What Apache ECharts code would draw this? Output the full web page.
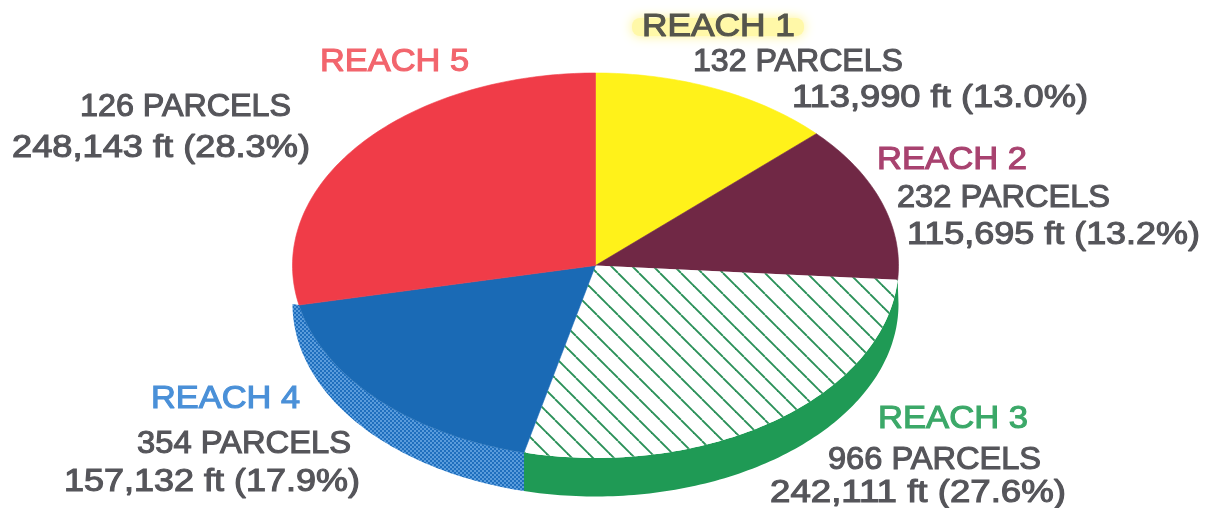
<!DOCTYPE html>
<html><head><meta charset="utf-8">
<style>html,body{margin:0;padding:0;background:#fff}#c{width:1208px;height:508px}</style>
<script src="https://cdn.jsdelivr.net/npm/echarts@6/dist/echarts.min.js"></script>
</head><body><div id="c"></div>
<script>
const categories = ['REACH 1','REACH 2','REACH 3','REACH 4','REACH 5'];
const feet = [113990,115695,242111,157132,248143];
const parcels = [132,232,966,354,126];
const percents = ['13.0','13.2','27.6','17.9','28.3'];

const topColors = ['#fff21a','#702845','hatch','#1a6ab5','#f03c48'];
const sideColors = [null,null,'#1f9a55','dots',null];
const titleColors = ['#55554c','#a8426f','#3ba868','#4a90d8','#f2656d'];
const bodyColor = '#55555a';

const cx=595.5, cy=265.5, rx=303, ry=192.5, depth=38.5;
const total = feet.reduce((a,b)=>a+b,0);

function tile(size,draw){const c=document.createElement('canvas');c.width=c.height=size;draw(c.getContext('2d'),size);return c;}
const hatch = tile(21,(g,s)=>{
  g.fillStyle='#fff';g.fillRect(0,0,s,s);
  g.strokeStyle='#2a9058';g.lineWidth=1.9;
  for(let k=-2;k<=2;k++){const o=9+k*s;g.beginPath();g.moveTo(o,0);g.lineTo(o+s,s);g.stroke();}
});
const dots = tile(4,(g,s)=>{
  g.fillStyle='#1f6fbe';g.fillRect(0,0,s,s);
  g.fillStyle='#5a9cdc';g.fillRect(0,0,2,2);g.fillRect(2,2,2,2);
});
const paint = c => c==='hatch'?{image:hatch,repeat:'repeat'}:c==='dots'?{image:dots,repeat:'repeat'}:c;

function pt(a,dy){const r=a*Math.PI/180;return [cx+rx*Math.sin(r),cy+dy-ry*Math.cos(r)];}
function arc(a0,a1,dy){const n=Math.max(2,Math.ceil(Math.abs(a1-a0)));const p=[];for(let i=0;i<=n;i++)p.push(pt(a0+(a1-a0)*i/n,dy));return p;}
function span(i){let s=0;for(let k=0;k<i;k++)s+=feet[k];return [s/total*360,(s+feet[i])/total*360];}

const rows = feet.map((v,i)=>[v,i]);

const sideSeries = {type:'custom',coordinateSystem:'none',silent:true,z:1,clip:false,data:rows,
  renderItem(p,api){
    const i=api.value(1);if(!sideColors[i])return null;
    const [a0,a1]=span(i);
    const b0=a0<100?90:a0, b1=a1>250&&a1<270?270:a1;
    const pts=arc(a0,a1,0).concat(arc(b1,b0,depth));
    return {type:'polygon',shape:{points:pts},style:{fill:paint(sideColors[i])}};
  }};
const topSeries = {type:'custom',coordinateSystem:'none',silent:true,z:2,clip:false,data:rows,
  renderItem(p,api){
    const i=api.value(1);const [a0,a1]=span(i);
    const pts=[[cx,cy]].concat(arc(a0,a1,0));
    const c=topColors[i];
    return {type:'polygon',shape:{points:pts},style:{fill:paint(c),stroke:c==='hatch'?null:c,lineWidth:c==='hatch'?0:0.6}};
  }};

const m=document.createElement('canvas').getContext('2d');
const FONT='"Liberation Sans",Arial,sans-serif';
function label(text,x,x2,yc,size,fill){
  const font=`${size}px ${FONT}`;m.font=font;
  const sx=(x2-x)/m.measureText(text).width;
  return {type:'text',x:x,y:yc+2,scaleX:sx,silent:true,z:10,
    style:{text,x:0,y:0,font,fill,stroke:fill,lineWidth:1.1,textAlign:'left',textVerticalAlign:'middle'}};
}
const titleBoxes=[[642,795,25],[877,1027,158],[878,1028,417],[151,300,397],[320,469,60]];
const parcelBoxes=[[693,903,60],[897,1110,196],[828,1041,458],[137,351,442],[80,291,105]];
const feetBoxes=[[792,1088,96],[907,1200,233],[770,1066,491],[64,360,480],[12,310,146]];
const fmt=n=>n.toLocaleString('en-US');
const glow={type:'rect',shape:{x:632,y:18,width:172,height:18,r:8},silent:true,z:5,
  style:{fill:'#fff8a8',shadowColor:'#fff48c',shadowBlur:12}};
const texts=[glow];
categories.forEach((c,i)=>{
  const t=titleBoxes[i],b=parcelBoxes[i],f=feetBoxes[i];
  texts.push(label(c,t[0],t[1],t[2],32,titleColors[i]));
  texts.push(label(parcels[i]+' PARCELS',b[0],b[1],b[2],31,bodyColor));
  texts.push(label(fmt(feet[i])+' ft ('+percents[i]+'%)',f[0],f[1],f[2],31,bodyColor));
});

const chart=echarts.init(document.getElementById('c'),null,{renderer:'canvas'});
chart.setOption({animation:false,backgroundColor:'#ffffff',series:[sideSeries,topSeries],graphic:{elements:texts}});
</script></body></html>
